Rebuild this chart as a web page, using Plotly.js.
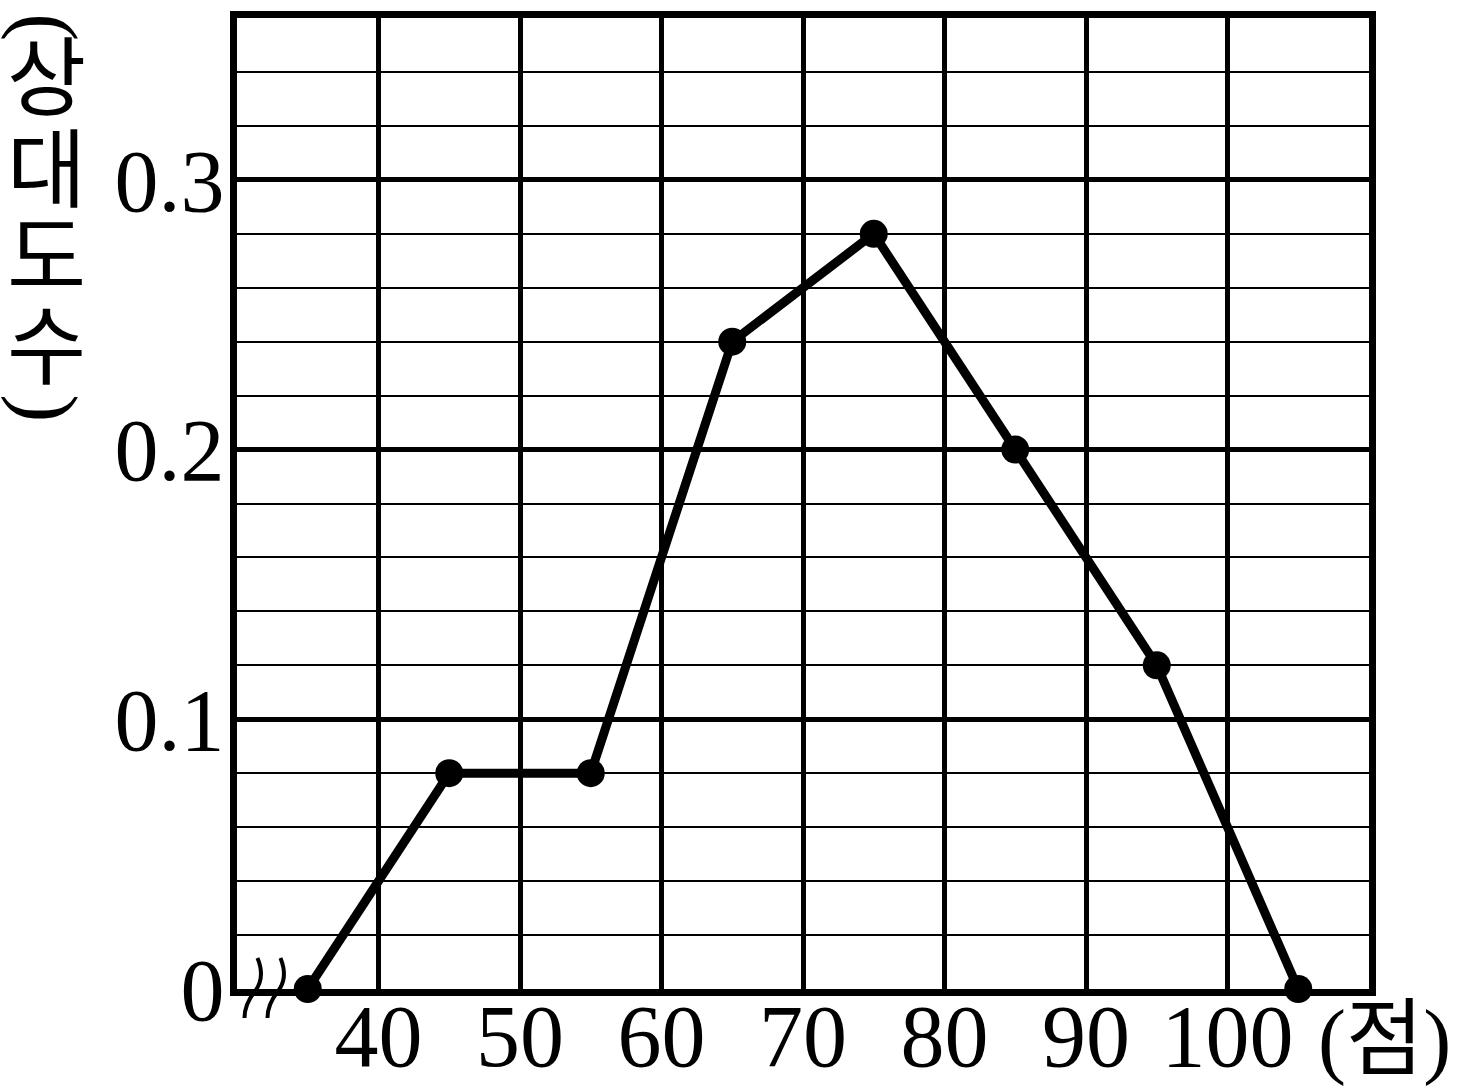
<!DOCTYPE html>
<html>
<head>
<meta charset="utf-8">
<script src="https://cdn.plot.ly/plotly-3.0.1.min.js"></script>
<style>html,body{margin:0;padding:0;background:#fff;}#chart{width:1474px;height:1092px;}</style>
</head>
<body>
<div id="chart"></div>
<script>
// Data: class midpoints (점) and relative frequencies (상대도수)
const scores = [35, 45, 55, 65, 75, 85, 95, 105];
const relFreq = [0, 0.08, 0.08, 0.24, 0.28, 0.2, 0.12, 0];
const xTickVals = [40, 50, 60, 70, 80, 90, 100];
const xTickText = ['40', '50', '60', '70', '80', '90', '100'];
const yTickVals = [0, 0.1, 0.2, 0.3];
const yTickText = ['0', '0.1', '0.2', '0.3'];
const yTitleChars = ['(', '상', '대', '도', '수', ')'];
const xTitleText = '(점)';

const W = 1474, H = 1092;
const L = 236.5, R = 1369.5, T = 18, B = 989;
const xRange = [30, 110], yRange = [0, 0.36];

function PX(px) { return (px - L) / (R - L); }
function PY(py) { return (B - py) / (B - T); }

const serif = 'Liberation Serif, DejaVu Serif, serif';
const kr = 'Liberation Serif, Noto Sans CJK KR, serif';

const trace = {
  x: scores, y: relFreq, type: 'scatter', mode: 'lines+markers',
  line: {color: '#000', width: 9},
  marker: {color: '#000', size: 28},
  cliponaxis: false, hoverinfo: 'skip'
};

const yCharPos = [27, 80, 172, 259, 349, 408];
const annotations = yTitleChars.map((c, i) => {
  const isParen = (c === '(' || c === ')');
  return {
    text: c, xref: 'paper', yref: 'paper', x: PX(46), y: PY(yCharPos[i]),
    xanchor: 'center', yanchor: 'middle', showarrow: false,
    textangle: isParen ? 90 : 0,
    font: {family: kr, size: isParen ? 84 : 86, color: '#000'}
  };
});
annotations.push({
  text: xTitleText, xref: 'paper', yref: 'paper', x: PX(1316), y: PY(1040),
  xanchor: 'left', yanchor: 'middle', showarrow: false,
  font: {family: kr, size: 84, color: '#000'}
});

function wiggle(dx) {
  const p = [[257,958],[262,970],[262,982],[254,992],[246,1002],[244,1010],[244,1018]]
    .map(([a, b]) => [PX(a + dx), PY(b)]);
  return `M ${p[0][0]},${p[0][1]} C ${p[1][0]},${p[1][1]} ${p[2][0]},${p[2][1]} ${p[3][0]},${p[3][1]} ` +
         `C ${p[4][0]},${p[4][1]} ${p[5][0]},${p[5][1]} ${p[6][0]},${p[6][1]}`;
}
const shapes = [0, 23].map(dx => ({
  type: 'path', xref: 'paper', yref: 'paper', path: wiggle(dx),
  line: {color: '#000', width: 4}, layer: 'above'
}));

const layout = {
  width: W, height: H,
  margin: {l: L, r: W - R, t: T, b: H - B, pad: 0},
  paper_bgcolor: '#fff', plot_bgcolor: '#fff',
  showlegend: false,
  xaxis: {
    range: xRange, tickmode: 'array', tickvals: xTickVals, ticktext: xTickText,
    showgrid: true, gridcolor: '#000', gridwidth: 5,
    showline: true, mirror: true, linecolor: '#000', linewidth: 7,
    zeroline: false, ticks: '', ticklabelstandoff: -36,
    tickfont: {family: serif, size: 88, color: '#000'}, fixedrange: true
  },
  yaxis: {
    range: yRange, tickmode: 'array', tickvals: yTickVals, ticktext: yTickText,
    showgrid: true, gridcolor: '#000', gridwidth: 5,
    minor: {dtick: 0.02, tick0: 0, showgrid: true, gridcolor: '#000', gridwidth: 2, ticks: ''},
    showline: true, mirror: true, linecolor: '#000', linewidth: 7,
    zeroline: false, ticks: '', ticklabelstandoff: -12,
    tickfont: {family: serif, size: 88, color: '#000'}, fixedrange: true
  },
  annotations: annotations,
  shapes: shapes
};

Plotly.newPlot('chart', [trace], layout, {displayModeBar: false, staticPlot: true});
</script>
</body>
</html>
